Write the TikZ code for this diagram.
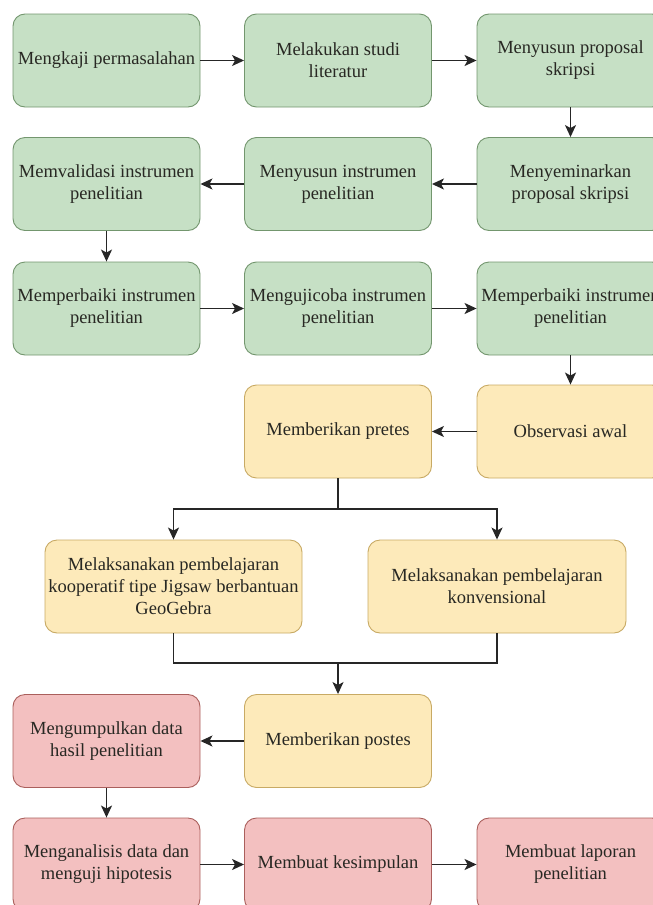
\documentclass[tikz,border=0pt]{standalone}
\usepackage{fontspec}
\setmainfont{Liberation Serif}
\usepackage{xcolor}
\usetikzlibrary{arrows.meta, positioning}

\definecolor{hijauF}{RGB}{198,224,197}
\definecolor{hijauD}{RGB}{115,150,110}
\definecolor{kuningF}{RGB}{253,234,186}
\definecolor{kuningD}{RGB}{200,170,100}
\definecolor{merahF}{RGB}{243,192,192}
\definecolor{merahD}{RGB}{170,95,92}
\definecolor{teks}{RGB}{40,40,35}

\begin{document}
\begin{tikzpicture}[x=1pt, y=-1pt,
    box/.style={rounded corners=12pt, minimum width=187pt, minimum height=93pt,
      align=center, inner xsep=2pt, text=teks, line width=0.9pt,
      font=\fontsize{18.5}{22}\selectfont},
    hijau/.style={box, draw=hijauD, fill=hijauF},
    kuning/.style={box, draw=kuningD, fill=kuningF},
    merah/.style={box, draw=merahD, fill=merahF},
    panah/.style={line width=1.5pt, draw=black!85, -{Stealth[length=12pt, width=11pt, inset=3pt]}},
    garis/.style={line width=1.5pt, draw=black!85}]
    \useasboundingbox (0,0) rectangle (653,905);
    \clip (0,0) rectangle (653,905);
    % tahap persiapan
    \node[hijau] (kaji) at (106.5,60.5) {Mengkaji permasalahan};
    \node[hijau] (studi) at (338,60.5) {Melakukan studi\\literatur};
    \node[hijau] (proposal) at (570.5,60.5) {Menyusun proposal\\skripsi};
    \node[hijau] (seminar) at (570.5,184) {Menyeminarkan\\proposal skripsi};
    \node[hijau] (susun) at (338,184) {Menyusun instrumen\\penelitian};
    \node[hijau] (validasi) at (106.5,184) {Memvalidasi instrumen\\penelitian};
    \node[hijau] (perbaiki) at (106.5,308.5) {Memperbaiki instrumen\\penelitian};
    \node[hijau] (ujicoba) at (338,308.5) {Mengujicoba instrumen\\penelitian};
    \node[hijau] (perbaikiB) at (570.5,308.5) {Memperbaiki instrumen\\penelitian};
    % tahap pelaksanaan
    \node[kuning] (observasi) at (570.5,431.5) {Observasi awal};
    \node[kuning] (pretes) at (338,431.5) {Memberikan pretes};
    \node[kuning, minimum width=257pt] (jigsaw) at (173.5,586.5)
      {Melaksanakan pembelajaran\\kooperatif tipe Jigsaw berbantuan\\GeoGebra};
    \node[kuning, minimum width=258pt] (konven) at (497,586.5)
      {Melaksanakan pembelajaran\\konvensional};
    \node[kuning] (postes) at (338,741) {Memberikan postes};
    % tahap akhir
    \node[merah] (kumpul) at (106.5,741) {Mengumpulkan data\\hasil penelitian};
    \node[merah] (analisis) at (106.5,864.5) {Menganalisis data dan\\menguji hipotesis};
    \node[merah] (simpulan) at (338,864.5) {Membuat kesimpulan};
    \node[merah] (laporan) at (570.5,864.5) {Membuat laporan\\penelitian};
    \coordinate (cabang) at (338,509);
    \coordinate (gabung) at (338,663);

    \draw[panah] (kaji) -- (studi);
    \draw[panah] (studi) -- (proposal);
    \draw[panah] (proposal) -- (seminar);
    \draw[panah] (seminar) -- (susun);
    \draw[panah] (susun) -- (validasi);
    \draw[panah] (validasi) -- (perbaiki);
    \draw[panah] (perbaiki) -- (ujicoba);
    \draw[panah] (ujicoba) -- (perbaikiB);
    \draw[panah] (perbaikiB) -- (observasi);
    \draw[panah] (observasi) -- (pretes);
    \draw[garis] (pretes) -- (cabang);
    \draw[panah] (cabang) -| (jigsaw);
    \draw[panah] (cabang) -| (konven);
    \draw[garis] (jigsaw) |- (gabung);
    \draw[garis] (konven) |- (gabung);
    \draw[panah] (gabung) -- (postes);
    \draw[panah] (postes) -- (kumpul);
    \draw[panah] (kumpul) -- (analisis);
    \draw[panah] (analisis) -- (simpulan);
    \draw[panah] (simpulan) -- (laporan);
\end{tikzpicture}
\end{document}
